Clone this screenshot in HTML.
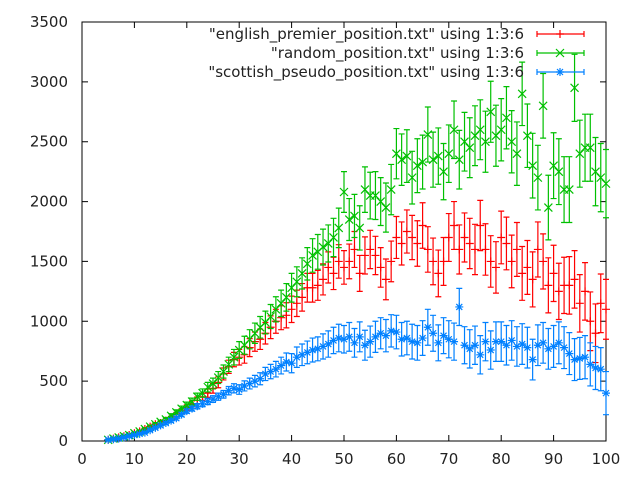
<!DOCTYPE html>
<html><head><meta charset="utf-8"><style>
body{margin:0;background:#fff}
svg{font-family:"DejaVu Sans","Liberation Sans",sans-serif;font-size:15px;fill:#222}
</style></head><body>
<svg id="c" width="640" height="480" xmlns="http://www.w3.org/2000/svg">
<rect x="0" y="0" width="640" height="480" fill="#fff"/>
<g id="axes"></g>
<g id="series"></g>
<g id="legend"></g>
</svg>
<script>
const xTicks=[0,10,20,30,40,50,60,70,80,90,100];
const yTicks=[0,500,1000,1500,2000,2500,3000,3500];
const seriesNames=['"english_premier_position.txt" using 1:3:6','"random_position.txt" using 1:3:6','"scottish_pseudo_position.txt" using 1:3:6'];
const xStart=5;
const redVals=[10,20,30,40,50,65,80,100,120,140,150,170,190,220,250,280,310,340,370,400,440,490,560,620,680,700,720,780,830,850,900,950,1000,1030,1050,1100,1150,1200,1280,1280,1300,1350,1450,1400,1500,1450,1500,1600,1400,1550,1600,1550,1450,1350,1500,1700,1650,1750,1700,1650,1800,1600,1500,1400,1500,1700,1800,1600,1700,1650,1600,1800,1600,1500,1450,1700,1650,1500,1600,1400,1450,1350,1600,1500,1300,1400,1250,1300,1300,1350,1150,1250,1000,900,1150,1100];
const redErr=[5,5,6,6,8,8,10,10,12,12,14,15,16,18,20,22,25,28,30,35,40,45,50,55,60,65,70,75,80,85,90,95,100,100,105,110,110,115,120,120,125,130,130,135,140,140,145,150,150,155,160,160,165,170,170,175,180,180,185,190,190,190,195,195,200,200,200,205,205,210,210,210,215,215,215,220,220,220,225,225,225,230,230,230,230,235,235,235,240,240,240,240,245,245,245,250];
const greenVals=[10,20,30,40,50,65,80,100,120,140,160,180,210,240,270,300,330,370,400,450,480,530,580,640,700,760,800,850,900,950,990,1040,1100,1150,1200,1280,1330,1400,1480,1550,1580,1620,1650,1700,1780,2080,1850,1880,1780,2100,2050,2050,2000,1950,2100,2400,2350,2380,2200,2300,2330,2560,2350,2380,2250,2400,2600,2350,2500,2450,2550,2600,2500,2750,2550,2600,2700,2500,2400,2900,2550,2300,2200,2800,1950,2300,2250,2100,2100,2950,2400,2450,2450,2250,2200,2150];
const greenErr=[5,5,6,6,8,8,10,10,12,14,15,16,18,20,22,25,28,30,35,40,45,50,55,60,65,70,75,80,85,90,95,100,105,110,115,120,125,130,135,140,145,150,155,160,165,170,175,180,185,190,195,200,200,205,210,210,215,220,220,225,225,230,230,235,235,240,240,245,245,250,250,250,255,255,255,260,260,260,265,265,265,270,270,270,270,275,275,275,275,280,280,280,280,285,285,285];
const blueVals=[10,15,20,30,40,50,60,70,90,110,130,150,170,190,220,250,270,290,310,330,350,370,390,420,440,430,460,480,500,520,560,580,600,630,660,650,700,720,740,760,770,790,810,840,860,850,870,820,870,800,830,870,900,880,920,910,850,860,830,820,860,950,900,820,880,850,830,1120,800,770,800,720,830,760,830,830,800,840,790,810,780,680,800,820,770,790,820,780,730,680,690,700,640,610,600,400];
const blueErr=[4,4,5,5,6,6,8,8,10,10,12,12,14,15,16,18,20,22,24,26,28,30,32,35,38,40,42,45,48,50,55,60,65,70,75,80,85,90,95,100,100,105,110,110,115,115,120,120,125,125,130,130,130,135,135,140,140,140,145,145,145,150,150,150,150,155,155,155,155,160,160,160,160,160,165,165,165,165,165,170,170,170,170,170,170,175,175,175,175,175,175,180,180,180,180,180];

const X0=82,X1=606,Y0=441,Y1=22;
const sx=v=>X0+(v-0)/(100-0)*(X1-X0);
const sy=v=>Y0-(v-0)/(3500-0)*(Y0-Y1);
const NS='http://www.w3.org/2000/svg';
function mk(t,a,p){const e=document.createElementNS(NS,t);for(const k in a)e.setAttribute(k,a[k]);p.appendChild(e);return e;}
const axes=document.getElementById('axes');
const frame=mk('rect',{x:X0,y:Y1,width:X1-X0,height:Y0-Y1,fill:'none',stroke:'#000','stroke-width':1},axes);


xTicks.forEach(t=>{
  const x=sx(t);
  const l=mk('path',{d:`M${x} ${Y0}v-6M${x} ${Y1}v6`,stroke:'#000'},axes);
  
  
  const tx=mk('text',{x:x,y:Y0+23,'text-anchor':'middle'},axes);tx.textContent=t;
  
  
});
yTicks.forEach(t=>{
  const y=sy(t);
  const l=mk('path',{d:`M${X0} ${y}h6M${X1} ${y}h-6`,stroke:'#000'},axes);
  
  
  const tx=mk('text',{x:X0-14,y:y+5,'text-anchor':'end'},axes);tx.textContent=t;
  
  
});
const colors=['#ff0000','#00c000','#0080ff'];
const allVals=[redVals,greenVals,blueVals];
const allErr=[redErr,greenErr,blueErr];
const names=['english-premier','random','scottish-pseudo'];
function marker(k,x,y,g){
  let d;
  if(k===0)d=`M${x-4} ${y}h8M${x} ${y-4}v8`;
  else if(k===1)d=`M${x-4} ${y-4}l8 8M${x-4} ${y+4}l8 -8`;
  else d=`M${x-4} ${y}h8M${x} ${y-4}v8M${x-3} ${y-3}l6 6M${x-3} ${y+3}l6 -6`;
  return mk('path',{d:d,stroke:colors[k],'stroke-width':1.2,fill:'none'},g);
}
const sg=document.getElementById('series');
[0,1,2].forEach(k=>{
  const g=mk('g',{},sg);
  
  
  allVals[k].forEach((v,i)=>{
    const x=sx(xStart+i),y=sy(v),e=allErr[k][i];
    const yt=sy(v+e),yb=sy(Math.max(0,v-e));
    const eb=mk('path',{d:`M${x} ${yt}V${yb}M${x-3} ${yt}h6M${x-3} ${yb}h6`,stroke:colors[k],'stroke-width':1.2,fill:'none'},g);
    
    
    const m=marker(k,x,y,g);
    
    
  });
});
const lg=document.getElementById('legend');
seriesNames.forEach((n,k)=>{
  const y=34+k*19;
  const t=mk('text',{x:524,y:y+5,'text-anchor':'end'},lg);t.textContent=n;
  
  
  const s=mk('path',{d:`M537 ${y}h47M537 ${y-3}v6M584 ${y-3}v6`,stroke:colors[k],'stroke-width':1.2},lg);
  
  
  const m=marker(k,560,y,lg);
  
  
});
</script>
</body></html>
